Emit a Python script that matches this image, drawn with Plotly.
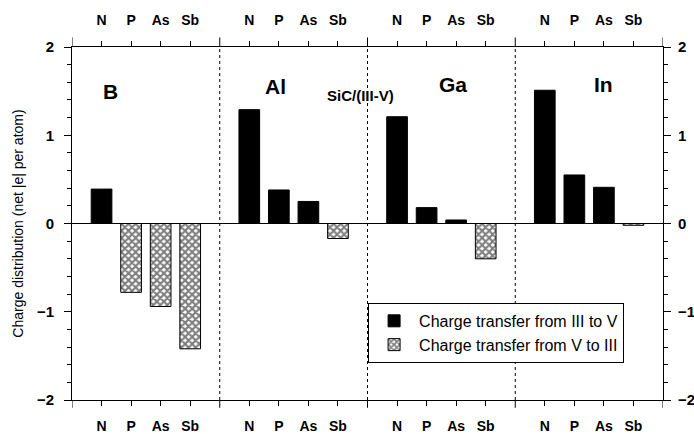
import plotly.graph_objects as go

groups = ["B", "Al", "Ga", "In"]
elements = ["N", "P", "As", "Sb"]
values = {
    "B":  [0.39, -0.78, -0.94, -1.42],
    "Al": [1.29, 0.38, 0.25, -0.17],
    "Ga": [1.21, 0.18, 0.04, -0.40],
    "In": [1.51, 0.55, 0.41, -0.02],
}
ytick_vals = [-2, -1, 0, 1, 2]
series_names = ["Charge transfer from III to V", "Charge transfer from V to III"]
title_text = "SiC/(III-V)"
ylabel = "Charge distribution (net |e| per atom)"

# positions: each group spans 5 units; elements at 1..4 within group
xs, ys = [], []
for g, grp in enumerate(groups):
    for i, v in enumerate(values[grp]):
        xs.append(5 * g + i + 1)
        ys.append(v)
pos_x = [x for x, y in zip(xs, ys) if y >= 0]
pos_y = [y for y in ys if y >= 0]
neg_x = [x for x, y in zip(xs, ys) if y < 0]
neg_y = [y for y in ys if y < 0]
tickvals = xs
ticktext = [elements[i % 4] for i in range(len(xs))]

FONT = "Liberation Sans, Arial, sans-serif"

fig = go.Figure()
fig.add_trace(go.Bar(x=pos_x, y=pos_y, width=0.7, name=series_names[0],
                     marker=dict(color="black", line=dict(color="black", width=1))))
fig.add_trace(go.Bar(x=neg_x, y=neg_y, width=0.7, name=series_names[1],
                     marker=dict(color="white", line=dict(color="black", width=1),
                                 pattern=dict(shape="x", fgcolor="black", bgcolor="white",
                                              size=5, solidity=0.65))))
# invisible trace to activate top/right axes
fig.add_trace(go.Scatter(x=[0, 20], y=[0, 0], xaxis="x2", yaxis="y2", mode="lines",
                         line=dict(color="rgba(0,0,0,0)"), showlegend=False, hoverinfo="skip"))

axis_common = dict(showline=True, linecolor="black", linewidth=1, ticks="outside",
                   tickcolor="black", showgrid=False, zeroline=False, automargin=False)

xtickfont = dict(size=14, family=FONT, weight="bold")
ytickfont = dict(size=15, family=FONT, weight="bold")

fig.update_layout(
    width=694, height=434,
    margin=dict(l=72, r=31, t=47, b=34),
    plot_bgcolor="white", paper_bgcolor="white",
    font=dict(family=FONT, color="black", size=13),
    barmode="overlay",
    showlegend=True,
    legend=dict(x=0.501, y=0.275, xanchor="left", yanchor="top",
                bgcolor="white", bordercolor="black", borderwidth=1,
                font=dict(size=16, family=FONT), tracegroupgap=0,
                itemwidth=40),
    xaxis=dict(range=[0, 20], tickvals=tickvals, ticktext=ticktext, ticklen=5,
               ticklabelstandoff=8, tickfont=xtickfont, **axis_common),
    xaxis2=dict(range=[0, 20], overlaying="x", side="top", tickvals=tickvals,
                ticktext=ticktext, ticklen=5, ticklabelstandoff=10,
                tickfont=xtickfont, **axis_common),
    yaxis=dict(range=[-2, 2], tickvals=ytick_vals, ticklen=7, ticklabelstandoff=7,
               tickfont=ytickfont,
               minor=dict(dtick=0.2, ticklen=4, ticks="outside", tickcolor="black"),
               title=dict(text=ylabel, font=dict(size=14, family=FONT), standoff=9),
               **axis_common),
    yaxis2=dict(range=[-2, 2], overlaying="y", side="right", tickvals=ytick_vals,
                ticklen=7, ticklabelstandoff=4, tickfont=ytickfont,
                minor=dict(dtick=0.2, ticklen=4, ticks="outside", tickcolor="black"),
                **axis_common),
)

shapes = []
# zero line
shapes.append(dict(type="line", xref="x", yref="y", x0=0, x1=20, y0=0, y1=0,
                   line=dict(color="black", width=1)))
# dotted group separators and boundary ticks
for b in [5, 10, 15]:
    shapes.append(dict(type="line", xref="x", yref="paper", x0=b, x1=b, y0=0, y1=1,
                       line=dict(color="black", width=1, dash="dot")))
for b in [0, 5, 10, 15, 20]:
    shapes.append(dict(type="line", xref="x", yref="paper", x0=b, x1=b, y0=1, y1=1.027,
                       line=dict(color="black", width=1)))
    shapes.append(dict(type="line", xref="x", yref="paper", x0=b, x1=b, y0=0, y1=-0.022,
                       line=dict(color="black", width=1)))
fig.update_layout(shapes=shapes)

labels = [("B", 1.3, 1.5), ("Al", 6.9, 1.55), ("Ga", 12.9, 1.58), ("In", 18.0, 1.58)]
for txt, x, y in labels:
    fig.add_annotation(x=x, y=y, text=txt, showarrow=False, xref="x", yref="y",
                       font=dict(size=21, family=FONT, weight="bold"))
fig.add_annotation(x=9.75, y=1.45, text=title_text, showarrow=False, xref="x", yref="y",
                   font=dict(size=15, family=FONT, weight="bold"))

fig.write_html("out.html", config={"displayModeBar": False},
               post_script="document.body.style.margin='0px';")
